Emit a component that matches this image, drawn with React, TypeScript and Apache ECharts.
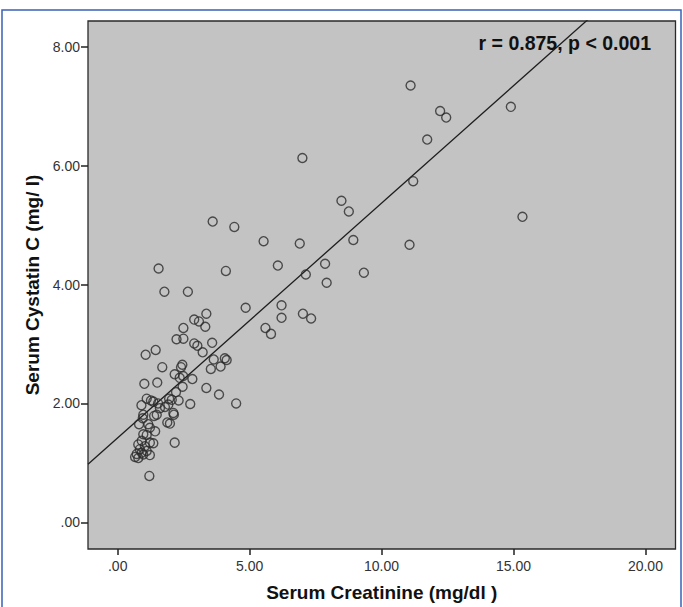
import React, { useEffect, useRef } from "react";
import * as echarts from "echarts";

// Serum creatinine (mg/dl) values of each subject
const creatinine: number[] = [
  11.1, 14.9, 12.22, 12.45, 11.73, 7.0, 11.2, 15.34, 8.48, 8.76,
  3.6, 4.42, 5.53, 6.9, 8.93, 11.06, 1.55, 4.1, 6.07, 7.86,
  7.13, 9.33, 7.92, 1.77, 2.66, 4.85, 6.21, 6.21, 7.02, 7.33,
  5.6, 5.81, 3.36, 2.9, 3.08, 3.32, 2.49, 2.23, 2.49, 2.9,
  3.02, 3.22, 3.58, 1.06, 1.44, 3.64, 4.06, 4.13, 3.53, 3.9,
  1.69, 2.45, 2.4, 2.16, 2.35, 2.48, 2.83, 2.46, 1.01, 1.5,
  3.36, 3.84, 2.21, 4.49, 2.75, 2.31, 1.95, 2.05, 1.1, 1.26,
  1.35, 0.9, 1.53, 1.6, 1.79, 1.92, 2.11, 2.13, 1.38, 1.48,
  0.97, 0.95, 1.98, 1.88, 0.81, 1.16, 1.22, 1.42, 0.97, 1.1,
  0.91, 1.22, 1.35, 2.16, 0.78, 1.03, 0.84, 1.1, 0.72, 0.91,
  0.97, 0.66, 0.78, 1.22, 1.2,
];

// Serum cystatin C (mg/l) values, same order
const cystatin: number[] = [
  7.35, 6.99, 6.92, 6.81, 6.44, 6.13, 5.74, 5.14, 5.41, 5.23,
  5.06, 4.97, 4.73, 4.69, 4.75, 4.67, 4.27, 4.23, 4.32, 4.35,
  4.17, 4.2, 4.03, 3.88, 3.88, 3.61, 3.65, 3.44, 3.51, 3.43,
  3.27, 3.17, 3.51, 3.41, 3.38, 3.29, 3.27, 3.08, 3.09, 3.01,
  2.97, 2.86, 3.02, 2.82, 2.9, 2.74, 2.76, 2.73, 2.58, 2.62,
  2.61, 2.65, 2.61, 2.49, 2.43, 2.46, 2.41, 2.28, 2.33, 2.35,
  2.26, 2.15, 2.19, 2.0, 1.99, 2.05, 2.08, 2.06, 2.08, 2.05,
  2.03, 1.97, 2.0, 1.92, 1.94, 1.98, 1.84, 1.81, 1.79, 1.81,
  1.81, 1.75, 1.66, 1.68, 1.65, 1.65, 1.59, 1.53, 1.48, 1.47,
  1.37, 1.34, 1.33, 1.34, 1.31, 1.28, 1.23, 1.2, 1.15, 1.17,
  1.14, 1.1, 1.08, 1.13, 0.78,
];

// Fit line: cystatin = intercept + slope * creatinine
const fitIntercept = 1.42;
const fitSlope = 0.395;

const xTicks: number[] = [0, 5, 10, 15, 20];
const yTicks: number[] = [0, 2, 4, 6, 8];

const xRange: [number, number] = [-1.125, 21.14];
const yRange: [number, number] = [-0.45, 8.435];

const annotation = "r = 0.875, p < 0.001";
const xTitle = "Serum Creatinine (mg/dl )";
const yTitle = "Serum Cystatin C (mg/ l)";

const fmt = (v: number) => v.toFixed(2).replace(/^0\./, ".");

export default function App() {
  const ref = useRef<HTMLDivElement>(null);
  useEffect(() => {
    if (!ref.current) return;
    const chart = echarts.init(ref.current, null, { renderer: "svg" });
    const points = creatinine.map((x, i) => [x, cystatin[i]]);
    const fitLine = xRange.map((x) => [x, fitIntercept + fitSlope * x]);
    const font = "'Liberation Sans', Arial, sans-serif";
    chart.setOption({
      animation: false,
      backgroundColor: "#ffffff",
      grid: {
        left: 88,
        top: 21,
        width: 587.5,
        height: 531,
        show: true,
        backgroundColor: "#c3c3c3",
        borderColor: "#2a2a2a",
        borderWidth: 1.3,
        containLabel: false,
      },
      xAxis: {
        type: "value",
        min: xRange[0],
        max: xRange[1],
        splitLine: { show: false },
        axisLine: { show: false, onZero: false },
        axisTick: {
          show: true,
          length: 6,
          customValues: xTicks,
          lineStyle: { color: "#222", width: 1.5 },
        },
        axisLabel: {
          customValues: xTicks,
          formatter: fmt,
          color: "#333",
          fontSize: 14,
          fontFamily: font,
          margin: 10,
        },
        name: xTitle,
        nameLocation: "middle",
        nameGap: 34,
        nameTextStyle: {
          fontSize: 19,
          fontWeight: "bold",
          color: "#111",
          fontFamily: font,
        },
      },
      yAxis: {
        type: "value",
        min: yRange[0],
        max: yRange[1],
        splitLine: { show: false },
        axisLine: { show: false, onZero: false },
        axisTick: {
          show: true,
          length: 7,
          customValues: yTicks,
          lineStyle: { color: "#222", width: 1.5 },
        },
        axisLabel: {
          customValues: yTicks,
          formatter: fmt,
          color: "#333",
          fontSize: 14,
          fontFamily: font,
          margin: 8,
        },
        name: yTitle,
        nameLocation: "middle",
        nameGap: 42,
        nameTextStyle: {
          fontSize: 19,
          fontWeight: "bold",
          color: "#111",
          fontFamily: font,
        },
      },
      series: [
        {
          type: "line",
          data: fitLine,
          symbol: "none",
          clip: true,
          silent: true,
          lineStyle: { color: "#1e1e1e", width: 1.3 },
          z: 1,
        },
        {
          type: "scatter",
          data: points,
          symbol: "circle",
          symbolSize: 9,
          itemStyle: {
            color: "rgba(0,0,0,0)",
            borderColor: "#2b2b2b",
            borderWidth: 1.4,
          },
          z: 2,
        },
      ],
      graphic: [
        {
          type: "rect",
          shape: { x: 2, y: 10, width: 679, height: 640 },
          style: { fill: "none", stroke: "#3a62b5", lineWidth: 1.5 },
          silent: true,
          z: 0,
        },
        {
          type: "text",
          x: 651,
          y: 43,
          style: {
            text: annotation,
            fontSize: 19.5,
            fontWeight: "bold",
            fontFamily: font,
            fill: "#111",
            align: "right",
            verticalAlign: "middle",
          },
          z: 10,
        },
      ],
    });
    return () => chart.dispose();
  }, []);
  return (
    <div
      ref={ref}
      style={{ position: "fixed", left: 0, top: 0, width: 683, height: 607 }}
    />
  );
}
